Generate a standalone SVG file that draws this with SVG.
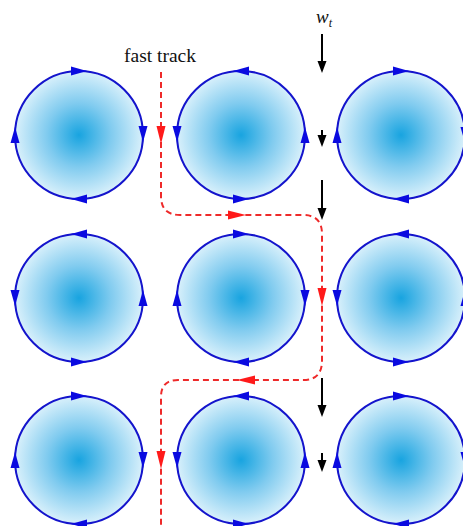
<svg xmlns="http://www.w3.org/2000/svg" width="463" height="526" viewBox="0 0 463 526">
<style>
.cell{fill:url(#g);stroke:#1414cc;stroke-width:2}
.ah{fill:#0a0ae0}
.red{fill:none;stroke:#ee2a2a;stroke-width:2;stroke-dasharray:6 4}
.rh{fill:#ff1a1a}
.blk{stroke:#000;stroke-width:2}
.bh{fill:#000}
text{font-family:"Liberation Serif","Times New Roman",serif;fill:#111}
</style>
<defs>
<radialGradient id="g" cx="50%" cy="50%" r="50%">
<stop offset="0" stop-color="#18a4e0"/>
<stop offset="0.5" stop-color="#80cbef"/>
<stop offset="1" stop-color="#d8f0fb"/>
</radialGradient>
<path id="tri" d="M8,0 L-8,-4.5 L-8,4.5 Z"/>
<path id="rtri" d="M0,9 L-4.5,-9 L4.5,-9 Z"/>
<path id="btri" d="M0,0 L-4.5,-12 L4.5,-12 Z"/>
</defs>
<rect width="463" height="526" fill="#fff"/>

<text x="160" y="62" text-anchor="middle" font-size="19.5">fast track</text>
<text x="316" y="23" font-size="19" font-style="italic">w<tspan font-size="12" dy="4">t</tspan></text>

<!-- Row 1 -->
<g id="c11"><circle class="cell" cx="79" cy="135" r="64"/>
<use href="#tri" class="ah" transform="translate(79,71)"/><use href="#tri" class="ah" transform="translate(143,134) rotate(90)"/><use href="#tri" class="ah" transform="translate(79,199) rotate(180)"/><use href="#tri" class="ah" transform="translate(15,135) rotate(270)"/></g>
<g id="c12"><circle class="cell" cx="241" cy="135" r="64"/>
<use href="#tri" class="ah" transform="translate(241,71) rotate(180)"/><use href="#tri" class="ah" transform="translate(177,134) rotate(90)"/><use href="#tri" class="ah" transform="translate(241,199)"/><use href="#tri" class="ah" transform="translate(305,135) rotate(270)"/></g>
<g id="c13"><circle class="cell" cx="401" cy="135" r="64"/>
<use href="#tri" class="ah" transform="translate(401,71)"/><use href="#tri" class="ah" transform="translate(465,135) rotate(90)"/><use href="#tri" class="ah" transform="translate(401,199) rotate(180)"/><use href="#tri" class="ah" transform="translate(337,135) rotate(270)"/></g>

<!-- Row 2 -->
<g id="c21"><circle class="cell" cx="79" cy="298" r="64"/>
<use href="#tri" class="ah" transform="translate(79,234) rotate(180)"/><use href="#tri" class="ah" transform="translate(15,298) rotate(90)"/><use href="#tri" class="ah" transform="translate(79,362)"/><use href="#tri" class="ah" transform="translate(143,298) rotate(270)"/></g>
<g id="c22"><circle class="cell" cx="241" cy="298" r="64"/>
<use href="#tri" class="ah" transform="translate(241,234)"/><use href="#tri" class="ah" transform="translate(305,298) rotate(90)"/><use href="#tri" class="ah" transform="translate(241,362) rotate(180)"/><use href="#tri" class="ah" transform="translate(177,298) rotate(270)"/></g>
<g id="c23"><circle class="cell" cx="401" cy="298" r="64"/>
<use href="#tri" class="ah" transform="translate(401,234) rotate(180)"/><use href="#tri" class="ah" transform="translate(337,298) rotate(90)"/><use href="#tri" class="ah" transform="translate(401,362)"/><use href="#tri" class="ah" transform="translate(465,298) rotate(270)"/></g>

<!-- Row 3 -->
<g id="c31"><circle class="cell" cx="79" cy="460" r="64"/>
<use href="#tri" class="ah" transform="translate(79,396)"/><use href="#tri" class="ah" transform="translate(143,460) rotate(90)"/><use href="#tri" class="ah" transform="translate(79,524) rotate(180)"/><use href="#tri" class="ah" transform="translate(15,460) rotate(270)"/></g>
<g id="c32"><circle class="cell" cx="241" cy="460" r="64"/>
<use href="#tri" class="ah" transform="translate(241,396) rotate(180)"/><use href="#tri" class="ah" transform="translate(177,460) rotate(90)"/><use href="#tri" class="ah" transform="translate(241,524)"/><use href="#tri" class="ah" transform="translate(305,460) rotate(270)"/></g>
<g id="c33"><circle class="cell" cx="401" cy="460" r="64"/>
<use href="#tri" class="ah" transform="translate(401,396)"/><use href="#tri" class="ah" transform="translate(465,460) rotate(90)"/><use href="#tri" class="ah" transform="translate(401,524) rotate(180)"/><use href="#tri" class="ah" transform="translate(337,460) rotate(270)"/></g>

<g id="connectors">
<path class="red" d="M161,72 V196 Q161,215 180,215 H303 Q322,215 322,234 V361 Q322,380 303,380 H178 Q161,380 161,397 V526"/>
<use href="#rtri" class="rh" transform="translate(161,135)"/>
<use href="#rtri" class="rh" transform="translate(237,215) rotate(-90)"/>
<use href="#rtri" class="rh" transform="translate(322,297)"/>
<use href="#rtri" class="rh" transform="translate(246,380) rotate(90)"/>
<use href="#rtri" class="rh" transform="translate(161,460)"/>

<line class="blk" x1="322" y1="34" x2="322" y2="64"/><use href="#btri" class="bh" transform="translate(322,73)"/>
<line class="blk" x1="322" y1="130" x2="322" y2="138"/><use href="#btri" class="bh" transform="translate(322,147)"/>
<line class="blk" x1="322" y1="180" x2="322" y2="210"/><use href="#btri" class="bh" transform="translate(322,220)"/>
<line class="blk" x1="322" y1="378" x2="322" y2="408"/><use href="#btri" class="bh" transform="translate(322,417)"/>
<line class="blk" x1="322" y1="453" x2="322" y2="462"/><use href="#btri" class="bh" transform="translate(322,472)"/>
</g>
</svg>
